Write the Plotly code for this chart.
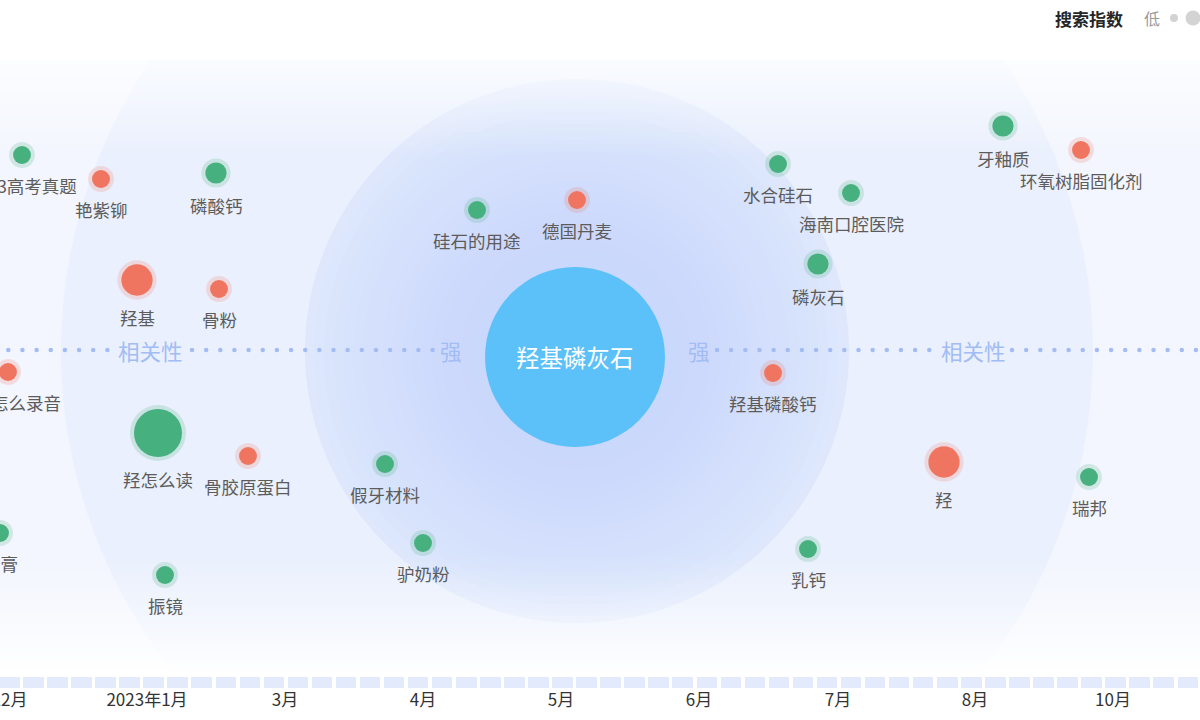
import numpy as np
import plotly.graph_objects as go

# ---------------- data ----------------
keywords = ["2023高考真题", "艳紫铆", "磷酸钙", "羟基", "骨粉", "手机怎么录音", "羟怎么读",
            "骨胶原蛋白", "石膏", "振镜", "假牙材料", "驴奶粉", "硅石的用途", "德国丹麦",
            "水合硅石", "海南口腔医院", "磷灰石", "羟基磷酸钙", "乳钙", "羟", "瑞邦",
            "牙釉质", "环氧树脂固化剂", "标记蛋白"]
pos_x = [22, 101, 216, 137, 219, 8, 158, 248, 0, 165, 385, 423, 477, 577,
         778, 851, 818, 773, 808, 944, 1089, 1003, 1081, 1203]
pos_y = [155, 179, 173, 280, 289, 372, 433, 456, 533, 575, 464, 543, 210, 200,
         164, 193, 264, 373, 549, 462, 477, 126, 150, 388]
search_index = [1, 1, 2, 5, 1, 1, 10, 1, 1, 1, 1, 1, 1, 1,
                1, 1, 2, 1, 1, 5, 1, 2, 1, 1]
trend = ["up", "down", "up", "down", "down", "down", "up", "down", "up", "up", "up", "up",
         "up", "down", "up", "up", "up", "down", "up", "down", "up", "up", "down", "down"]

center_word = "羟基磷灰石"
center_xy = (575, 357)

tick_pos = [9.6, 147, 285, 423, 561, 699, 838, 975, 1113]
tick_labels = ["12月", "2023年1月", "3月", "4月", "5月", "6月", "7月", "8月", "10月"]

axis_labels = ["相关性", "强", "强", "相关性"]
axis_label_x = [150, 451, 699, 973]
axis_y = 350

# ---------------- styles ----------------
FONT = "Noto Sans CJK SC"
COL = {"up": "#46B07F", "down": "#EF7560"}
HALO = {"up": "rgba(70,176,127,0.2)", "down": "rgba(239,117,96,0.2)"}
W, H, B = 1200, 720, 32
PH = H - B


def diam(v):
    return 14.5 + 3.35 * v


fig = go.Figure()

# ---------------- background shapes ----------------
shapes = []
shapes.append(dict(type="rect", x0=-20, x1=1220, y0=60, y1=690,
                   fillcolor="#F3F6FE", line_width=0, layer="below"))
cx, cy = center_xy
for r, c in [(516, "#EAF0FD"), (272, "#DEE7FC")]:
    shapes.append(dict(type="circle", x0=cx + 2 - r, x1=cx + 2 + r, y0=cy - 6 - r, y1=cy - 6 + r,
                       fillcolor=c, line_width=0, layer="below"))
# soft radial glow inside the middle ring
for r in np.linspace(262, 95, 18):
    shapes.append(dict(type="circle", x0=cx + 1 - r, x1=cx + 1 + r, y0=cy - 3 - r, y1=cy - 3 + r,
                       fillcolor="rgba(196,212,250,0.05)", line_width=0, layer="below"))
# top fade
n = 24
for i in range(n):
    y0 = 60 + i * 4
    shapes.append(dict(type="rect", x0=-20, x1=1220, y0=y0, y1=y0 + 4,
                       fillcolor="white", opacity=0.72 * (1 - i / n), line_width=0, layer="below"))
# bottom fade
n = 30
for i in range(n):
    y0 = 552 + i * 4
    shapes.append(dict(type="rect", x0=-20, x1=1220, y0=y0, y1=y0 + 4,
                       fillcolor="white", opacity=0.93 * ((i + 1) / n) ** 1.3, line_width=0, layer="below"))
shapes.append(dict(type="rect", x0=-20, x1=1220, y0=-10, y1=60,
                   fillcolor="white", line_width=0, layer="below"))
shapes.append(dict(type="rect", x0=-20, x1=1220, y0=672, y1=700,
                   fillcolor="white", line_width=0, layer="below"))

# ---------------- bottom strip (time slider) ----------------
strip_x = np.arange(9.3, 1215, 24.05)
fig.add_trace(go.Bar(x=strip_x, y=[11] * len(strip_x), base=677, width=20.5,
                     marker=dict(color="#E2EAFB", line_width=0),
                     hoverinfo="skip", showlegend=False))

# ---------------- dotted relevance line ----------------
segments = [(8.3, 108), (192, 436), (717, 930), (1012, 1205)]
dots = np.concatenate([np.arange(a, b, 14.15) for a, b in segments])
fig.add_trace(go.Scatter(x=dots, y=[axis_y] * len(dots), mode="markers",
                         marker=dict(size=4.5, color="#A3BDF4", opacity=1),
                         hoverinfo="skip", showlegend=False))

# ---------------- center ----------------
fig.add_trace(go.Scatter(x=[cx], y=[cy], mode="markers",
                         marker=dict(size=180, color="#5BC1F8", line_width=0, opacity=1),
                         hoverinfo="skip", showlegend=False))

# ---------------- keyword bubbles ----------------
sizes = [diam(v) for v in search_index]
fig.add_trace(go.Scatter(x=pos_x, y=pos_y, mode="markers",
                         marker=dict(size=[s + 8 for s in sizes], color=[HALO[t] for t in trend],
                                     line_width=0, opacity=1),
                         hoverinfo="skip", showlegend=False))
fig.add_trace(go.Scatter(x=pos_x, y=pos_y, mode="markers", text=keywords,
                         marker=dict(size=sizes, color=[COL[t] for t in trend], line_width=0,
                                     opacity=1),
                         hovertemplate="%{text}<extra></extra>", showlegend=False))

annotations = []
for name, x, y, s in zip(keywords, pos_x, pos_y, sizes):
    annotations.append(dict(x=x, y=y, text=name, showarrow=False, xanchor="center", yanchor="middle",
                            yshift=-(s / 2 + 22), font=dict(family=FONT, size=17.5, color="#5C5C5C")))

annotations.append(dict(x=cx, y=cy, text=center_word, showarrow=False,
                        font=dict(family=FONT, size=23.5, color="white")))

for t, x in zip(axis_labels, axis_label_x):
    annotations.append(dict(x=x, y=axis_y, text=t, showarrow=False,
                            font=dict(family=FONT, size=21.5, color="#A2BCF4")))

# ---------------- size legend ----------------
annotations.append(dict(x=1089, y=18, text="<b>搜索指数</b>", showarrow=False,
                        font=dict(family=FONT, size=17, color="#262626")))
annotations.append(dict(x=1152, y=18, text="低", showarrow=False,
                        font=dict(family=FONT, size=16, color="#9A9A9A")))
fig.add_trace(go.Scatter(x=[1174, 1193], y=[18, 18], mode="markers",
                         marker=dict(size=[8, 15], color="#D3D3D3", line_width=0, opacity=1),
                         hoverinfo="skip", showlegend=False, cliponaxis=False))

fig.update_layout(
    width=W, height=H,
    margin=dict(l=0, r=0, t=0, b=B, autoexpand=False),
    paper_bgcolor="white", plot_bgcolor="white",
    shapes=shapes, annotations=annotations,
    showlegend=False, bargap=0,
    font=dict(family=FONT),
    xaxis=dict(range=[0, W], showgrid=False, zeroline=False, showline=False, automargin=False,
               tickmode="array", tickvals=tick_pos, ticktext=tick_labels, ticks="",
               ticklabeloverflow="allow",
               tickfont=dict(family=FONT, size=17, color="#333333"), fixedrange=True),
    yaxis=dict(range=[PH, 0], showgrid=False, zeroline=False, showline=False, automargin=False,
               showticklabels=False, fixedrange=True),
)

fig.write_html("out.html", config={"displayModeBar": False},
               post_script="document.body.style.margin='0';document.body.style.overflow='hidden';")
